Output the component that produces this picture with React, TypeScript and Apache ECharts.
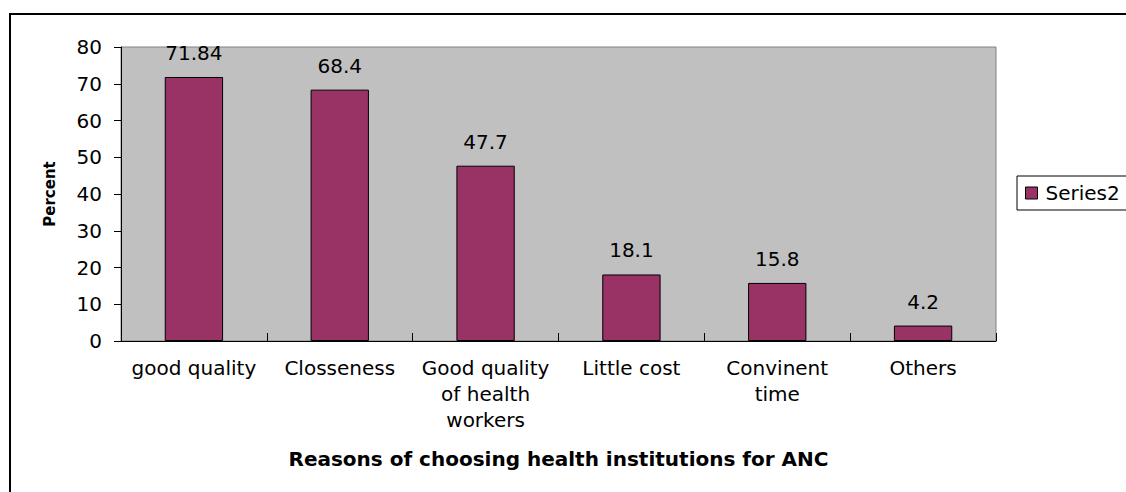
import React, { useEffect, useRef } from "react";
import * as echarts from "echarts";

const categories = [
  "good quality",
  "Closseness",
  "Good quality\nof health\nworkers",
  "Little cost",
  "Convinent\ntime",
  "Others",
];
const seriesName = "Series2";
const percentValues = [71.84, 68.4, 47.7, 18.1, 15.8, 4.2];
const yMin = 0;
const yMax = 80;
const yInterval = 10;
const xTitle = "Reasons of choosing health institutions for ANC";
const yTitle = "Percent";

const FONT = "DejaVu Sans";

export default function App() {
  const ref = useRef<HTMLDivElement>(null);
  useEffect(() => {
    if (!ref.current) return;
    const chart = echarts.init(ref.current, undefined, { renderer: "svg" });
    chart.setOption({
      animation: false,
      backgroundColor: "#ffffff",
      textStyle: { fontFamily: FONT },
      graphic: [
        {
          type: "rect",
          shape: { x: 10, y: 14, width: 1300, height: 700 },
          style: { fill: "none", stroke: "#000", lineWidth: 2 },
          silent: true,
          z: -1,
        },
      ],
      grid: {
        left: 121,
        top: 47,
        width: 875,
        height: 294,
        show: true,
        backgroundColor: "#C0C0C0",
        borderColor: "#808080",
        borderWidth: 1,
        containLabel: false,
      },
      legend: {
        show: true,
        left: 1017,
        top: 176,
        orient: "vertical",
        icon: "rect",
        itemWidth: 12,
        itemHeight: 12,
        padding: [7, 30, 7, 8],
        borderColor: "#000",
        borderWidth: 1,
        backgroundColor: "#fff",
        textStyle: {
          fontFamily: FONT,
          fontSize: 20,
          color: "#000",
          lineHeight: 19,
          padding: [0, 0, 0, 3],
        },
        itemStyle: { borderColor: "#000", borderWidth: 1 },
        data: [seriesName],
      },
      xAxis: {
        type: "category",
        data: categories,
        name: xTitle,
        nameLocation: "middle",
        nameGap: 108,
        nameTextStyle: {
          fontFamily: FONT,
          fontSize: 20,
          fontWeight: "bold",
          color: "#000",
        },
        axisLine: { show: true, lineStyle: { color: "#000", width: 1 } },
        axisTick: {
          show: true,
          inside: true,
          length: 8,
          alignWithLabel: false,
          lineStyle: { color: "#000" },
        },
        axisLabel: {
          interval: 0,
          margin: 14,
          fontFamily: FONT,
          fontSize: 20,
          lineHeight: 26,
          color: "#000",
        },
        splitLine: { show: false },
      },
      yAxis: {
        type: "value",
        min: yMin,
        max: yMax,
        interval: yInterval,
        name: yTitle,
        nameLocation: "middle",
        nameGap: 64,
        nameRotate: 90,
        nameTextStyle: {
          fontFamily: FONT,
          fontSize: 15,
          fontWeight: "bold",
          color: "#000",
        },
        axisLine: { show: true, lineStyle: { color: "#000", width: 1 } },
        axisTick: { show: true, inside: false, length: 7, lineStyle: { color: "#000" } },
        axisLabel: {
          margin: 19,
          fontFamily: FONT,
          fontSize: 20,
          color: "#000",
        },
        splitLine: { show: false },
      },
      series: [
        {
          name: seriesName,
          type: "bar",
          data: percentValues,
          barWidth: "40%",
          itemStyle: { color: "#993366", borderColor: "#000", borderWidth: 1 },
          label: {
            show: true,
            position: "top",
            distance: 14,
            fontFamily: FONT,
            fontSize: 20,
            color: "#000",
          },
        },
      ],
    });
    return () => chart.dispose();
  }, []);
  return (
    <div
      ref={ref}
      style={{ position: "fixed", left: 0, top: 0, width: 1126, height: 492 }}
    />
  );
}
